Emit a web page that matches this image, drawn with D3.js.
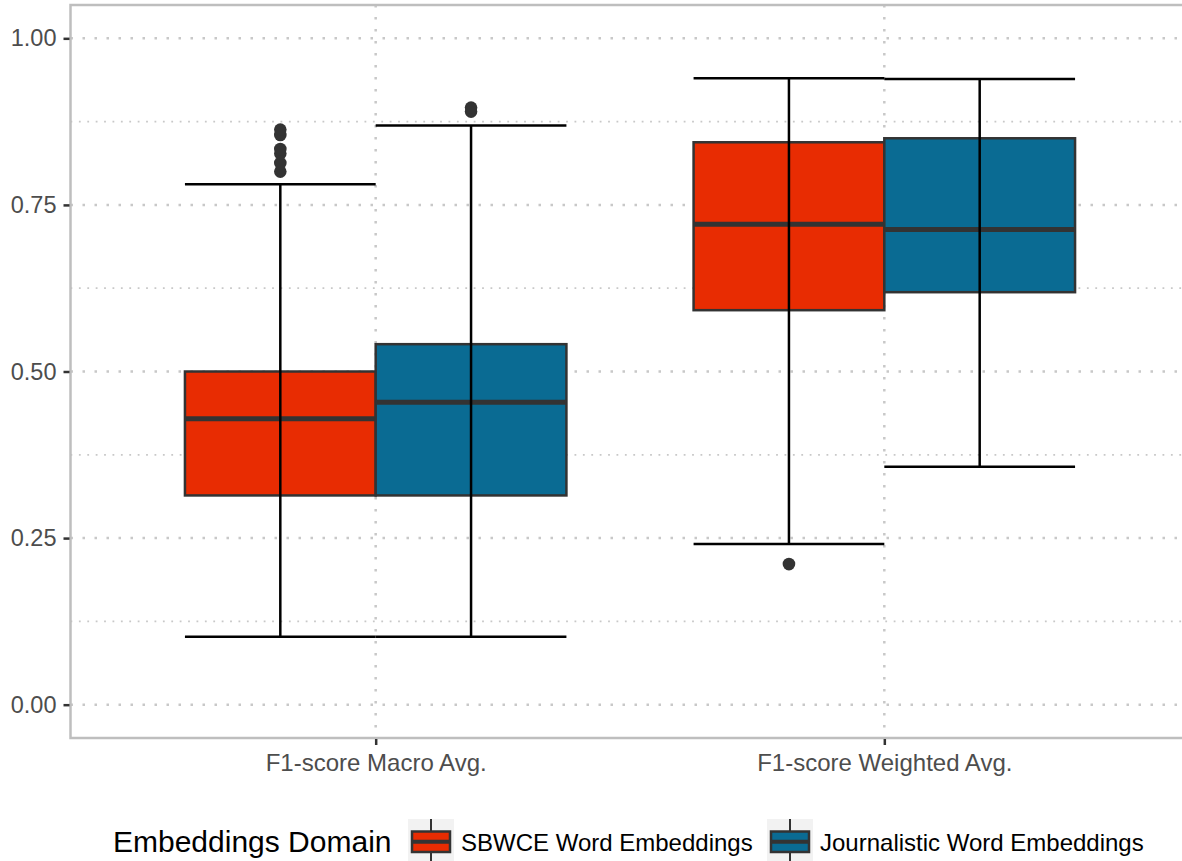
<!DOCTYPE html>
<html>
<head>
<meta charset="utf-8">
<script src="https://cdn.jsdelivr.net/npm/d3@7"></script>
<style>
  html, body { margin: 0; padding: 0; background: #fff; }
  svg { display: block; font-family: "Liberation Sans", Arial, sans-serif; }
</style>
</head>
<body>
<svg id="chart" width="1182" height="861"></svg>
<script>
// Metrics on the x axis
const metrics = ["F1-score Macro Avg.", "F1-score Weighted Avg."];
// Embedding groups (dodged within each metric)
const groups = ["SBWCE Word Embeddings", "Journalistic Word Embeddings"];
const groupColors = ["#e82c02", "#0a6b93"];

// Five-number summaries per metric, one array per group:
// [lower whisker, Q1, median, Q3, upper whisker]
const sbwceStats = [
  [0.102, 0.314, 0.429, 0.500, 0.781],
  [0.241, 0.592, 0.721, 0.844, 0.940]
];
const journalisticStats = [
  [0.102, 0.314, 0.454, 0.541, 0.869],
  [0.357, 0.619, 0.713, 0.850, 0.939]
];
// Outlying points per metric
const sbwceOutliers = [
  [0.800, 0.813, 0.827, 0.834, 0.855, 0.863],
  [0.211]
];
const journalisticOutliers = [
  [0.890, 0.896],
  []
];

const yTicks = [0, 0.25, 0.5, 0.75, 1.0];
const yMinor = [0.125, 0.375, 0.625, 0.875];

const statsByGroup = [sbwceStats, journalisticStats];
const outliersByGroup = [sbwceOutliers, journalisticOutliers];

const svg = d3.select("#chart");

const panel = { left: 70.5, right: 1189.5, top: 5, bottom: 738 };

const x = d3.scalePoint().domain(metrics)
  .range([panel.left, panel.right]).padding(0.6);
const step = x.step();
const dodge = d3.scaleBand().domain(groups)
  .range([-0.375 * step, 0.375 * step]);

const y = d3.scaleLinear().domain([-0.05, 1.05])
  .range([panel.bottom, panel.top]);

const gridColor = "#c8c8c8";

// grid
const grid = svg.append("g");
grid.selectAll("line.minor").data(yMinor).join("line")
  .attr("x1", panel.left).attr("x2", panel.right)
  .attr("y1", d => y(d)).attr("y2", d => y(d))
  .attr("stroke", gridColor).attr("stroke-width", 1.8)
  .attr("stroke-dasharray", "1.8 6.6");
grid.selectAll("line.major").data(yTicks).join("line")
  .attr("x1", panel.left).attr("x2", panel.right)
  .attr("y1", d => y(d)).attr("y2", d => y(d))
  .attr("stroke", gridColor).attr("stroke-width", 2.5)
  .attr("stroke-dasharray", "2.5 9.5");
grid.selectAll("line.v").data(metrics).join("line")
  .attr("x1", d => x(d)).attr("x2", d => x(d))
  .attr("y1", panel.top).attr("y2", panel.bottom)
  .attr("stroke", gridColor).attr("stroke-width", 2.5)
  .attr("stroke-dasharray", "2.5 9.5");

// boxes
const marks = svg.append("g");
groups.forEach((g, gi) => {
  metrics.forEach((m, mi) => {
    const s = statsByGroup[gi][mi];
    const x0 = x(m) + dodge(g);
    const w = dodge.bandwidth();
    const cx = x0 + w / 2;
    marks.append("rect")
      .attr("x", x0).attr("width", w)
      .attr("y", y(s[3])).attr("height", y(s[1]) - y(s[3]))
      .attr("fill", groupColors[gi])
      .attr("stroke", "#333333").attr("stroke-width", 2.5);
    marks.append("line")
      .attr("x1", x0).attr("x2", x0 + w)
      .attr("y1", y(s[2])).attr("y2", y(s[2]))
      .attr("stroke", "#333333").attr("stroke-width", 5);
    outliersByGroup[gi][mi].forEach(v => {
      marks.append("circle").attr("cx", cx).attr("cy", y(v)).attr("r", 6.3)
        .attr("fill", "#333333");
    });
  });
});

// error bars drawn over the boxes
const bars = svg.append("g");
groups.forEach((g, gi) => {
  metrics.forEach((m, mi) => {
    const s = statsByGroup[gi][mi];
    const x0 = x(m) + dodge(g);
    const w = dodge.bandwidth();
    const cx = x0 + w / 2;
    bars.append("line")
      .attr("x1", cx).attr("x2", cx)
      .attr("y1", y(s[0])).attr("y2", y(s[4]))
      .attr("stroke", "#000").attr("stroke-width", 2.5);
    [s[0], s[4]].forEach(v => {
      bars.append("line")
        .attr("x1", x0).attr("x2", x0 + w)
        .attr("y1", y(v)).attr("y2", y(v))
        .attr("stroke", "#000").attr("stroke-width", 2.5);
    });
  });
});

// panel border
svg.append("rect")
  .attr("x", panel.left).attr("y", panel.top)
  .attr("width", panel.right - panel.left).attr("height", panel.bottom - panel.top)
  .attr("fill", "none").attr("stroke", "#bebebe").attr("stroke-width", 2.5);

// y axis
const yAxis = svg.append("g")
  .attr("transform", `translate(${panel.left - 1},0)`)
  .call(d3.axisLeft(y).tickValues(yTicks).tickFormat(d3.format(".2f"))
    .tickSize(6).tickPadding(7));
yAxis.select(".domain").remove();
yAxis.selectAll(".tick line").attr("stroke", "#333333").attr("stroke-width", 2.5);
yAxis.selectAll(".tick text").attr("fill", "#4d4d4d")
  .style("font-size", "23.5px").style("font-family", "'Liberation Sans', Arial, sans-serif");

// x axis
const xAxis = svg.append("g")
  .attr("transform", `translate(0,${panel.bottom + 1})`)
  .call(d3.axisBottom(x).tickSize(6).tickPadding(9));
xAxis.select(".domain").remove();
xAxis.selectAll(".tick line").attr("stroke", "#333333").attr("stroke-width", 2.5);
xAxis.selectAll(".tick text").attr("fill", "#4d4d4d")
  .style("font-size", "24px").style("font-family", "'Liberation Sans', Arial, sans-serif");

// legend
const legend = svg.append("g");
legend.append("text").attr("x", 113).attr("y", 852)
  .attr("fill", "#000").style("font-size", "30px").text("Embeddings Domain");
const keyX = [408, 767];
groups.forEach((g, gi) => {
  const kx = keyX[gi];
  const k = legend.append("g").attr("transform", `translate(${kx},819)`);
  k.append("rect").attr("width", 46).attr("height", 46).attr("fill", "#f2f2f2");
  k.append("line").attr("x1", 23).attr("x2", 23).attr("y1", 0).attr("y2", 46)
    .attr("stroke", "#333333").attr("stroke-width", 2);
  k.append("rect").attr("x", 4).attr("y", 12.5).attr("width", 38).attr("height", 20.5)
    .attr("fill", groupColors[gi]).attr("stroke", "#333333").attr("stroke-width", 2.5);
  k.append("line").attr("x1", 4).attr("x2", 42).attr("y1", 22.7).attr("y2", 22.7)
    .attr("stroke", "#333333").attr("stroke-width", 4);
  legend.append("text").attr("x", kx + 53).attr("y", 851)
    .attr("fill", "#000").style("font-size", "24px").text(g);
});
</script>
</body>
</html>
